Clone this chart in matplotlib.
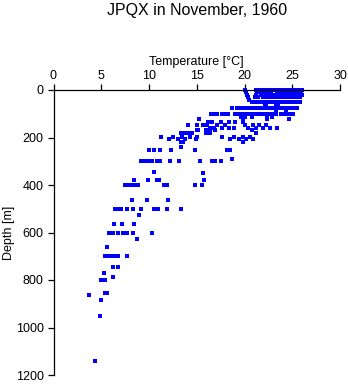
import numpy as np
import matplotlib
matplotlib.use("Agg")
import matplotlib.pyplot as plt

plt.rcParams['font.family'] = ['Liberation Sans', 'DejaVu Sans']

# temperature readings [degC] grouped by sample depth [m]
t_0 = [20.1, 21.2, 21.5, 21.8, 22.1, 22.4, 22.6, 22.9, 23.3, 23.6, 23.9, 24.1, 24.4, 24.8, 25.0, 25.3, 25.5, 25.7, 25.9, 26.0]
t_10 = [20.2, 21.3, 21.6, 21.9, 22.2, 22.5, 22.8, 23.4, 23.7, 24.0, 24.3, 24.7, 24.9, 25.2, 25.4, 25.6, 25.9]
t_20 = [20.3, 21.2, 21.7, 22.0, 22.3, 22.6, 22.9, 23.3, 23.6, 23.9, 24.2, 24.5, 24.8, 25.1, 25.4, 25.7, 26.0]
t_30 = [20.4, 21.1, 21.4, 21.9, 22.2, 22.5, 22.8, 23.2, 23.5, 23.8, 24.1, 24.4, 24.7, 25.0, 25.3, 25.6, 25.8]
t_40 = [20.5]
t_50 = [20.8, 21.0, 21.3, 21.6, 21.9, 22.2, 22.5, 22.8, 23.1, 23.4, 23.7, 24.0, 24.3, 24.6, 24.9, 25.2, 25.5, 25.8]
t_60 = [22.1, 22.3, 23.3, 23.5]
t_75 = [18.7, 19.2, 19.6, 20.0, 20.3, 20.6, 20.9, 21.2, 21.5, 21.8, 22.1, 22.4, 22.7, 23.0, 23.3, 23.6, 23.9, 24.2, 24.5, 24.9, 25.2, 25.5]
t_87 = [23.3, 24.3]
t_100 = [16.5, 16.8, 17.1, 17.6, 18.0, 18.3, 19.0, 19.3, 19.6, 19.9, 20.2, 20.5, 20.8, 21.1, 21.4, 21.7, 22.0, 22.3, 22.6, 23.0, 23.3, 23.8, 24.1, 24.4, 24.7, 25.1]
t_112 = [19.6, 20.0, 20.8, 22.4, 22.9]
t_120 = [15.2, 19.8, 22.4, 24.7]
t_135 = [16.2, 16.6, 17.5, 18.4, 19.0, 19.8]
t_147 = [14.1, 15.0, 15.7, 16.1, 17.1, 18.0, 20.1, 20.9, 21.5, 22.2]
t_158 = [16.4, 16.8, 17.6, 18.4, 18.9, 20.4, 21.2, 21.9, 22.7, 23.4]
t_170 = [15.0, 15.1, 16.0, 16.4, 16.9, 20.8]
t_183 = [13.4, 13.8, 14.2, 14.5, 16.0, 16.4, 21.2]
t_196 = [11.3, 12.5, 13.5, 14.3, 15.0, 17.6, 18.9, 19.8, 20.6]
t_205 = [12.1, 13.0, 13.8, 14.9, 18.5, 19.4, 20.2, 20.9]
t_220 = [13.4, 13.6, 19.8]
t_238 = [13.3]
t_253 = [10.0, 10.5, 11.2, 12.3, 14.8, 18.2, 18.5]
t_290 = [18.7]
t_300 = [9.2, 9.5, 9.8, 10.1, 10.3, 10.8, 11.2, 12.2, 13.1, 15.3, 16.6, 16.9, 17.5]
t_344 = [10.5]
t_350 = [15.7]
t_380 = [8.4, 9.9, 10.8, 11.0, 15.8]
t_400 = [7.5, 7.8, 8.2, 8.4, 8.9, 11.6, 11.9, 14.8, 15.6]
t_465 = [8.2, 9.8, 12.0]
t_500 = [6.4, 6.8, 7.1, 7.7, 8.3, 9.2, 10.5, 10.9, 11.9, 13.4]
t_526 = [9.0]
t_565 = [6.35, 7.2, 8.4]
t_600 = [5.8, 6.0, 6.25, 6.8, 7.3, 7.65, 8.3, 10.3]
t_628 = [8.7]
t_660 = [5.65]
t_700 = [5.4, 5.8, 6.1, 6.35, 6.8, 7.65]
t_745 = [6.2, 6.8]
t_771 = [5.3]
t_786 = [6.25]
t_802 = [5.0, 5.2, 5.4]
t_855 = [5.4, 5.65]
t_862 = [3.7]
t_884 = [5.0]
t_952 = [4.9]
t_1142 = [4.35]

levels = [(0, t_0), (10, t_10), (20, t_20), (30, t_30), (40, t_40), (50, t_50),
          (60, t_60), (75, t_75), (87, t_87), (100, t_100), (112, t_112),
          (120, t_120), (135, t_135), (147, t_147), (158, t_158), (170, t_170),
          (183, t_183), (196, t_196), (205, t_205), (220, t_220), (238, t_238),
          (253, t_253), (290, t_290), (300, t_300), (344, t_344), (350, t_350),
          (380, t_380), (400, t_400), (465, t_465), (500, t_500), (526, t_526),
          (565, t_565), (600, t_600), (628, t_628), (660, t_660), (700, t_700),
          (745, t_745), (771, t_771), (786, t_786), (802, t_802), (855, t_855),
          (862, t_862), (884, t_884), (952, t_952), (1142, t_1142)]

temp = np.concatenate([t for d, t in levels])
depth = np.concatenate([[d] * len(t) for d, t in levels])

fig = plt.figure(figsize=(3.48, 3.84), dpi=100)
ax = fig.add_axes([53.5 / 348, 1 - 375 / 384, (340 - 53.5) / 348, (375 - 90) / 384])

ax.plot(temp, depth, 's', color='#0000ff', markersize=2.2, markeredgewidth=0, clip_on=False)

ax.set_xlim(0, 30)
ax.set_ylim(1200, 0)
ax.set_xticks(np.arange(0, 31, 5))
ax.set_yticks(np.arange(0, 1201, 200))

ax.spines['right'].set_visible(False)
ax.spines['bottom'].set_visible(False)
ax.spines['left'].set_linewidth(0.9)
ax.spines['top'].set_linewidth(0.9)
ax.xaxis.tick_top()
ax.xaxis.set_label_position('top')
ax.tick_params(axis='both', direction='out', length=4, width=0.9, labelsize=9, pad=3)
ax.tick_params(axis='x', pad=2)

ax.set_xlabel('Temperature [°C]', fontsize=9, labelpad=3)
ax.set_ylabel('Depth [m]', fontsize=9)
ax.yaxis.set_label_coords(-0.136, 0.5)
fig.text(0.565, 1 - 11 / 384, 'JPQX in November, 1960', ha='center', va='center', fontsize=11.5)

fig.savefig('out.png', dpi=100)
